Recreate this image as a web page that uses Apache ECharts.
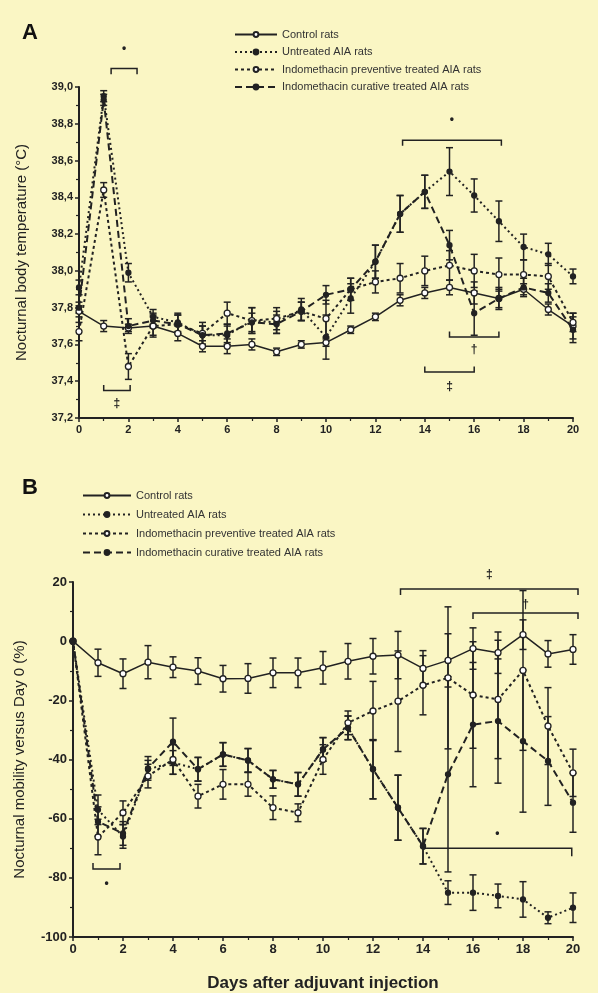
<!DOCTYPE html>
<html>
<head>
<meta charset="utf-8">
<script src="https://cdn.jsdelivr.net/npm/echarts@6/dist/echarts.min.js"></script>
<style>
  html, body { margin: 0; padding: 0; background: #faf6c4; }
  #main { width: 598px; height: 993px; }
</style>
</head>
<body>
<div id="main"></div>
<script>
// days after adjuvant injection
const days = [0, 1, 2, 3, 4, 5, 6, 7, 8, 9, 10, 11, 12, 13, 14, 15, 16, 17, 18, 19, 20]
const names = ['Control rats', 'Untreated AIA rats', 'Indomethacin preventive treated AIA rats', 'Indomethacin curative treated AIA rats']

// A: nocturnal body temperature (°C), mean and error
const ctrlA = [37.78, 37.70, 37.69, 37.70, 37.66, 37.59, 37.59, 37.60, 37.56, 37.60, 37.61, 37.68, 37.75, 37.84, 37.88, 37.91, 37.88, 37.85, 37.90, 37.79, 37.70]
const ctrlAErr = [0.03, 0.03, 0.02, 0.05, 0.04, 0.03, 0.04, 0.03, 0.02, 0.02, 0.02, 0.02, 0.02, 0.03, 0.03, 0.04, 0.06, 0.05, 0.03, 0.03, 0.07]
const untrA = [37.91, 38.95, 37.99, 37.75, 37.72, 37.65, 37.65, 37.73, 37.72, 37.79, 37.64, 37.85, 38.05, 38.31, 38.43, 38.54, 38.41, 38.27, 38.13, 38.09, 37.97]
const untrAErr = [0.04, 0.03, 0.05, 0.04, 0.05, 0.05, 0.05, 0.07, 0.06, 0.06, 0.12, 0.08, 0.09, 0.10, 0.09, 0.13, 0.09, 0.11, 0.07, 0.06, 0.04]
const prevA = [37.67, 38.44, 37.48, 37.70, 37.71, 37.66, 37.77, 37.73, 37.74, 37.78, 37.74, 37.90, 37.94, 37.96, 38.00, 38.03, 38.00, 37.98, 37.98, 37.97, 37.72]
const prevAErr = [0.05, 0.04, 0.07, 0.06, 0.05, 0.06, 0.06, 0.07, 0.06, 0.05, 0.10, 0.06, 0.06, 0.08, 0.08, 0.08, 0.09, 0.09, 0.08, 0.07, 0.05]
const curaA = [37.80, 38.93, 37.70, 37.73, 37.71, 37.65, 37.66, 37.72, 37.71, 37.78, 37.87, 37.90, 38.05, 38.31, 38.43, 38.14, 37.77, 37.85, 37.91, 37.88, 37.68]
const curaAErr = [0.03, 0.03, 0.04, 0.04, 0.05, 0.05, 0.05, 0.05, 0.05, 0.05, 0.05, 0.06, 0.09, 0.10, 0.09, 0.08, 0.12, 0.06, 0.05, 0.05, 0.07]

// B: nocturnal mobility versus day 0 (%)
const ctrlB = [0, -7.3, -11, -7.1, -8.8, -10.1, -12.7, -12.6, -10.7, -10.7, -9.0, -6.8, -5.1, -4.7, -9.2, -6.5, -2.5, -3.9, 2.2, -4.3, -2.8]
const ctrlBErr = [0, 4.6, 5, 5.6, 3.5, 4.5, 4.5, 5, 5, 5, 5.5, 6, 6, 8, 6, 9, 7, 7, 5, 4.5, 5]
const untrB = [0, -57, -66, -43.3, -41, -43.3, -38.3, -40.3, -46.7, -48.4, -36.6, -29.3, -43.3, -56.3, -69.3, -85, -85, -86.1, -87.3, -93.5, -90.1]
const untrBErr = [0, 5, 4, 3, 4, 4, 4, 4, 3, 4, 4, 4, 10, 11, 6, 4, 6, 4, 6, 2, 5]
const prevB = [0, -66.2, -58, -45.6, -40, -52.4, -48.4, -48.4, -56.3, -58, -40, -27.6, -23.6, -20.3, -14.9, -12.4, -18.2, -19.7, -9.9, -28.7, -44.5]
const prevBErr = [0, 6, 4, 4, 5, 4, 5, 4, 4, 3, 5, 4, 10, 17, 10, 24, 18, 20, 27, 13, 8]
const curaB = [0, -61, -65, -43, -34, -43.3, -38.3, -40.3, -46.7, -48.4, -36.6, -29.3, -43.3, -56.3, -69.3, -45, -28.2, -27, -33.8, -40.5, -54.6]
const curaBErr = [0, 5, 4, 4, 8, 4, 4, 4, 3, 4, 4, 4, 10, 11, 6, 33, 21, 21, 24, 15, 10]

// significance brackets: [x1, x2, y, leftTick, rightTick, labelY]
const bracketsA = [[1.3, 2.35, 39.10, -0.03, -0.03, 39.21], [1.0, 2.07, 37.35, 0.03, 0.03, 37.28],
  [13.1, 17.1, 38.71, -0.03, -0.03, 38.82], [15.0, 17.0, 37.64, 0.03, 0.03, 37.57], [14.0, 16.0, 37.45, 0.03, 0.03, 37.37]]
const bracketLabelsA = ['•', '‡', '•', '†', '‡']
const bracketsB = [[0.8, 1.88, -77, 2, 2, -82], [13.1, 20.2, 17.6, -2, -2, 22.6],
  [16.0, 20.2, 9.5, -2, -2, 12.5], [14.0, 19.95, -70, 0, -2.7, -65]]
const bracketLabelsB = ['•', '‡', '†', '•']

const ink = '#222'
const font = "'Liberation Sans', Arial, sans-serif"

// 初始化
const myChart = echarts.init(document.getElementById('main'))

const styles = [
    { type: 'solid', open: true },
    { type: [2, 3], open: false },
    { type: [3, 3], open: true },
    { type: [7, 4], open: false },
]

function lineSeries(i, data, axis) {
    const s = styles[i]
    return {
        name: names[i],
        type: 'line',
        xAxisIndex: axis,
        yAxisIndex: axis,
        data: days.map((d, k) => [d, data[k]]),
        symbol: 'circle',
        symbolSize: s.open ? 6 : 5,
        lineStyle: { color: ink, width: s.type === 'solid' ? 1.5 : 2, type: s.type },
        itemStyle: { color: s.open ? '#fff' : ink, borderColor: ink, borderWidth: 1.3 },
        z: 4 + i,
    }
}

function errorSeries(data, errs, axis) {
    return {
        type: 'custom',
        xAxisIndex: axis,
        yAxisIndex: axis,
        data: days.map((d, k) => [d, data[k] - errs[k], data[k] + errs[k]]),
        encode: { x: 0, y: [1, 2] },
        renderItem: (params, api) => {
            const lo = api.coord([api.value(0), api.value(1)])
            const hi = api.coord([api.value(0), api.value(2)])
            if (Math.abs(hi[1] - lo[1]) < 1) return null
            const w = 3.5
            return {
                type: 'group',
                children: [
                    { type: 'line', shape: { x1: lo[0], y1: lo[1], x2: hi[0], y2: hi[1] }, style: { stroke: ink, lineWidth: 1.5 } },
                    { type: 'line', shape: { x1: lo[0] - w, y1: lo[1], x2: lo[0] + w, y2: lo[1] }, style: { stroke: ink, lineWidth: 1.5 } },
                    { type: 'line', shape: { x1: hi[0] - w, y1: hi[1], x2: hi[0] + w, y2: hi[1] }, style: { stroke: ink, lineWidth: 1.5 } },
                ],
            }
        },
        z: 3,
    }
}

function bracketSeries(list, labels, axis) {
    return {
        type: 'custom',
        xAxisIndex: axis,
        yAxisIndex: axis,
        data: list,
        encode: { x: [0, 1], y: 2 },
        clip: false,
        renderItem: (params, api) => {
            const x1 = api.value(0), x2 = api.value(1), y = api.value(2)
            const a = api.coord([x1, y]), b = api.coord([x2, y])
            const a2 = api.coord([x1, y + api.value(3)]), b2 = api.coord([x2, y + api.value(4)])
            const l = api.coord([(x1 + x2) / 2, api.value(5)])
            return {
                type: 'group',
                children: [
                    { type: 'polyline', shape: { points: [a2, a, b, b2] }, style: { stroke: ink, lineWidth: 1.5, fill: null } },
                    { type: 'text', x: l[0], y: l[1], style: { text: labels[params.dataIndex], fill: ink, font: 'bold 12px ' + font, align: 'center', verticalAlign: 'middle' } },
                ],
            }
        },
        z: 2,
    }
}

function axisCommon(fontSize) {
    return {
        axisLine: { onZero: false, lineStyle: { color: ink, width: 2 } },
        axisTick: { length: 4, lineStyle: { color: ink, width: 1.5 } },
        minorTick: { show: true, splitNumber: 2, length: 3, lineStyle: { color: ink, width: 1.2 } },
        axisLabel: { color: ink, fontSize: fontSize, fontWeight: 'bold', fontFamily: font, margin: 6 },
        splitLine: { show: false },
    }
}

const option = {
    animation: false,
    backgroundColor: '#faf6c4',
    textStyle: { fontFamily: font },
    grid: [
        { left: 79, right: 25, top: 87, height: 331, outerBoundsMode: 'none' },
        { left: 73, right: 25, top: 582, height: 355, outerBoundsMode: 'none' },
    ],
    legend: [
        {
            left: 229, top: 24, orient: 'vertical', itemWidth: 42, itemHeight: 6, itemGap: 6.5,
            data: names, textStyle: { fontSize: 11, color: '#333', fontFamily: font },
        },
        {
            left: 77, top: 485, orient: 'vertical', itemWidth: 48, itemHeight: 6, itemGap: 8,
            data: names, textStyle: { fontSize: 11, color: '#333', fontFamily: font },
        },
    ],
    xAxis: [
        Object.assign(axisCommon(11), { type: 'value', gridIndex: 0, min: 0, max: 20, interval: 2 }),
        Object.assign(axisCommon(13), {
            type: 'value', gridIndex: 1, min: 0, max: 20, interval: 2,
            name: 'Days after adjuvant injection', nameLocation: 'middle', nameGap: 38,
            nameTextStyle: { fontSize: 17, fontWeight: 'bold', color: ink, fontFamily: font },
        }),
    ],
    yAxis: [
        Object.assign(axisCommon(11), {
            type: 'value', gridIndex: 0, min: 37.2, max: 39.0, interval: 0.2,
            name: 'Nocturnal body temperature (°C)', nameLocation: 'middle', nameGap: 50,
            nameTextStyle: { fontSize: 15, color: ink, fontFamily: font },
        }),
        Object.assign(axisCommon(13), {
            type: 'value', gridIndex: 1, min: -100, max: 20, interval: 20,
            name: 'Nocturnal mobility versus Day 0 (%)', nameLocation: 'middle', nameGap: 46,
            nameTextStyle: { fontSize: 15, color: ink, fontFamily: font },
        }),
    ],
    graphic: [
        { type: 'text', left: 22, top: 22, style: { text: 'A', font: 'bold 22px ' + font, fill: '#111' } },
        { type: 'text', left: 22, top: 477, style: { text: 'B', font: 'bold 22px ' + font, fill: '#111' } },
    ],
    series: [
        errorSeries(ctrlA, ctrlAErr, 0), errorSeries(untrA, untrAErr, 0),
        errorSeries(prevA, prevAErr, 0), errorSeries(curaA, curaAErr, 0),
        errorSeries(ctrlB, ctrlBErr, 1), errorSeries(untrB, untrBErr, 1),
        errorSeries(prevB, prevBErr, 1), errorSeries(curaB, curaBErr, 1),
        lineSeries(0, ctrlA, 0), lineSeries(1, untrA, 0), lineSeries(2, prevA, 0), lineSeries(3, curaA, 0),
        lineSeries(0, ctrlB, 1), lineSeries(1, untrB, 1), lineSeries(2, prevB, 1), lineSeries(3, curaB, 1),
        bracketSeries(bracketsA, bracketLabelsA, 0),
        bracketSeries(bracketsB, bracketLabelsB, 1),
    ],
}

option.yAxis[0].axisLabel.formatter = (v) => v.toFixed(1).replace('.', ',')

myChart.setOption(option)
</script>
</body>
</html>
